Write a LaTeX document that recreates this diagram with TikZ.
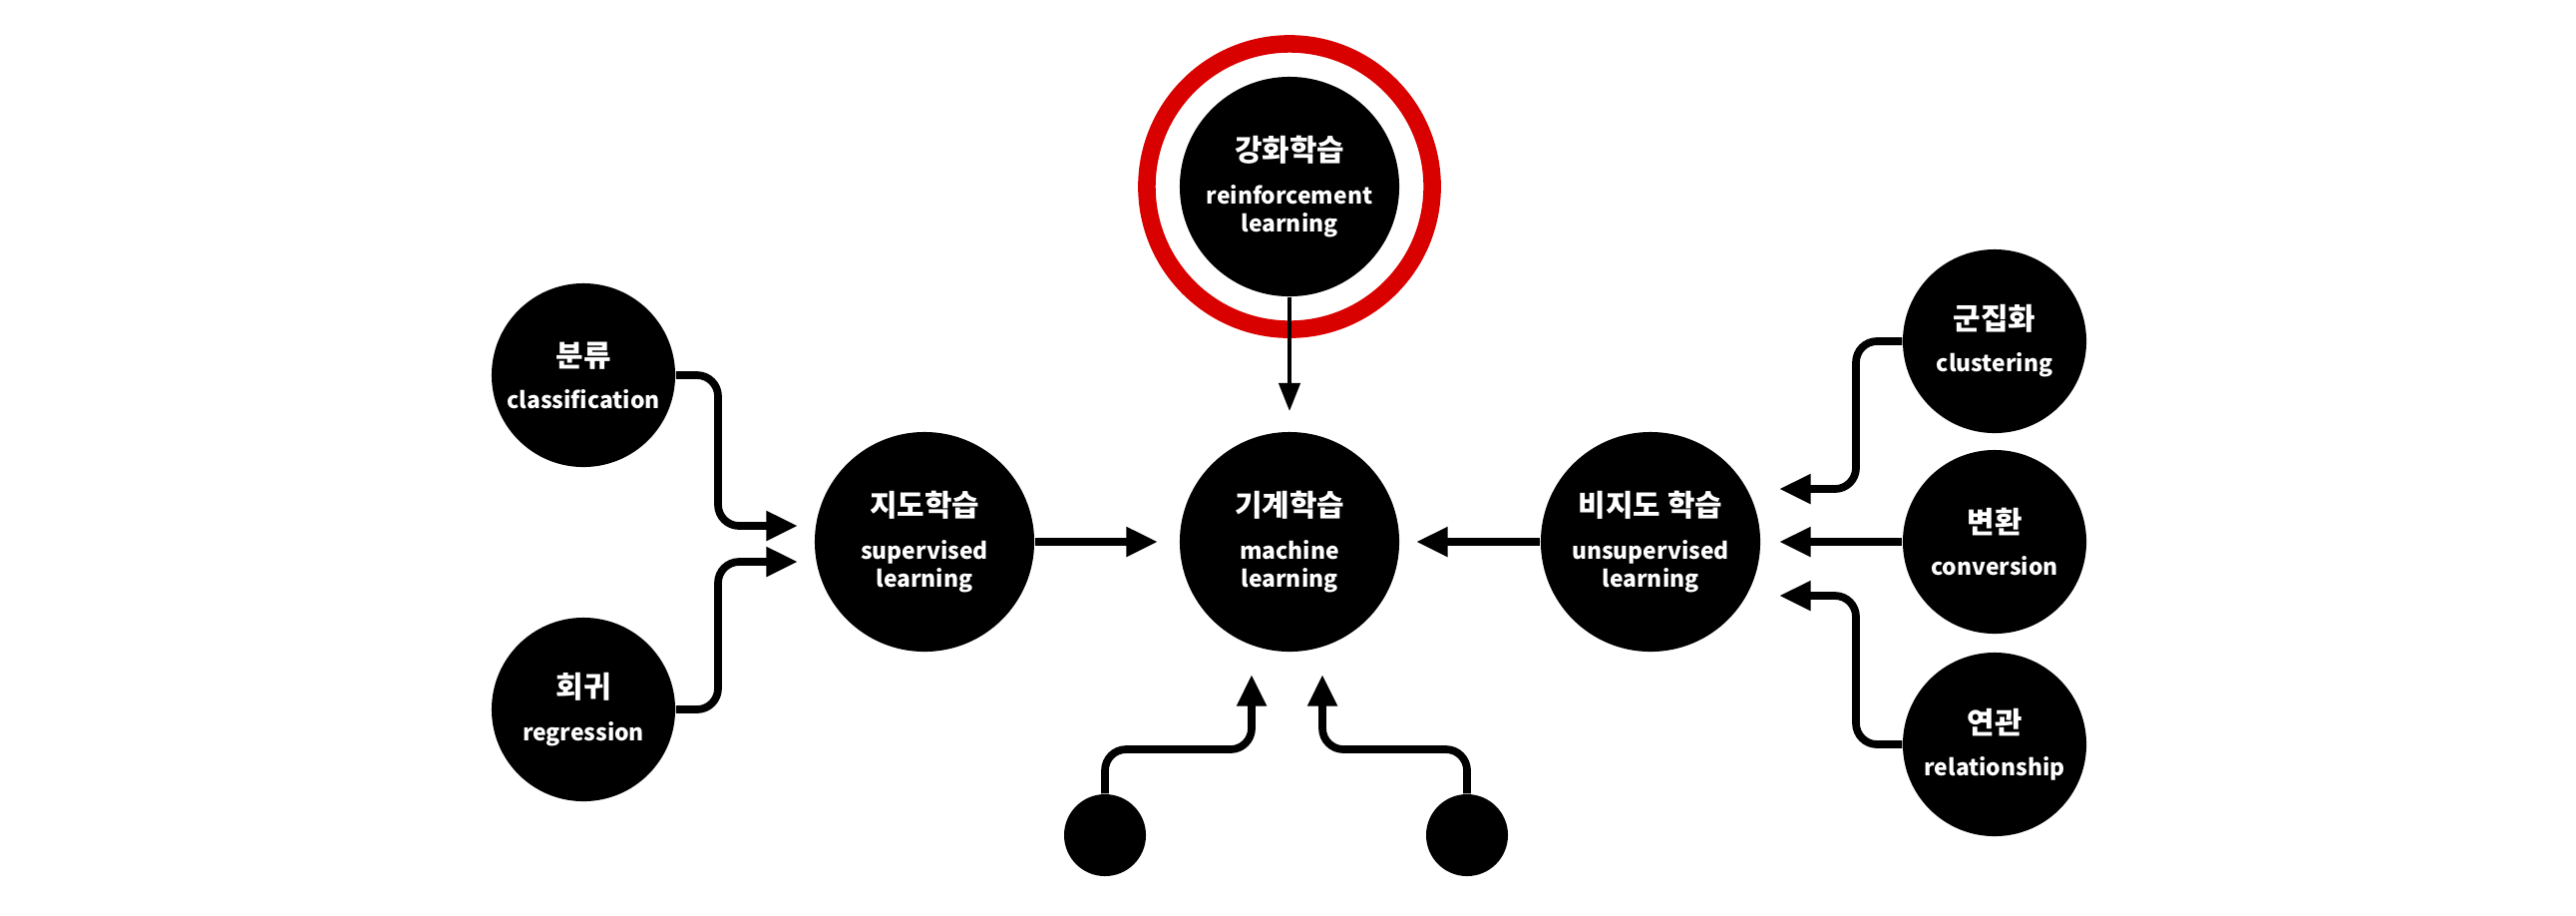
\documentclass[tikz,border=0pt]{standalone}
\usepackage{fontspec}
\setmainfont{Noto Sans CJK KR}
\usetikzlibrary{arrows.meta}

\begin{document}
\begin{tikzpicture}[x=0.01cm,y=-0.01cm,
      ball/.style={circle, fill=black, text=white, inner sep=0pt, align=center,
        font=\fontsize{6.5}{8}\selectfont\bfseries},
      big/.style={ball, minimum size=2.2cm},
      mid/.style={ball, minimum size=1.84cm},
      dot/.style={ball, minimum size=0.82cm},
      marrow/.style={-{Triangle[length=9pt,width=8pt]}, line width=2.2pt, rounded corners=6pt},
      tarrow/.style={-{Triangle[length=8pt,width=6pt]}, line width=1.2pt}]
    \newcommand{\kor}[1]{{\fontsize{8.5}{10}\selectfont #1}\\[4pt]}
    \useasboundingbox (0,0) rectangle (2583,917);

    % main row
    \node[big] (ml)  at (1293,543) {\kor{기계학습}machine\\learning};
    \node[big] (sup) at (927,543)  {\kor{지도학습}supervised\\learning};
    \node[big] (uns) at (1655,543) {\kor{비지도 학습}unsupervised\\learning};
    \node[big] (rl)  at (1293,187) {\kor{강화학습}reinforcement\\learning};
    \draw[red!85!black, line width=5pt] (rl.center) circle [radius=1.43cm];

    % leaves
    \node[mid] (cls) at (585,376)  {\kor{분류}classification};
    \node[mid] (reg) at (585,711)  {\kor{회귀}regression};
    \node[mid] (clu) at (2000,342) {\kor{군집화}clustering};
    \node[mid] (cnv) at (2000,543) {\kor{변환}conversion};
    \node[mid] (rel) at (2000,746) {\kor{연관}relationship};
    \node[dot] (dl)  at (1108,837) {};
    \node[dot] (dr)  at (1471,837) {};

    \coordinate (supA) at (800,527);
    \coordinate (supB) at (800,563);
    \coordinate (unsA) at (1784,490);
    \coordinate (unsB) at (1784,597);
    \coordinate (mlA)  at (1255,676);
    \coordinate (mlB)  at (1326,676);

    % connectors
    \draw[marrow] (sup) -- (1161,543);
    \draw[marrow] (uns) -- (1420,543);
    \draw[tarrow] (rl) -- (1293,412);
    \draw[marrow] (cls.east) -| (720,460) |- (supA);
    \draw[marrow] (reg.east) -| (720,620) |- (supB);
    \draw[marrow] (clu.west) -| (1861,420) |- (unsA);
    \draw[marrow] (cnv) -- (1784,543);
    \draw[marrow] (rel.west) -| (1861,660) |- (unsB);
    \draw[marrow] (dl.north) |- (1180,751) -| (mlA);
    \draw[marrow] (dr.north) |- (1400,751) -| (mlB);
\end{tikzpicture}
\end{document}
